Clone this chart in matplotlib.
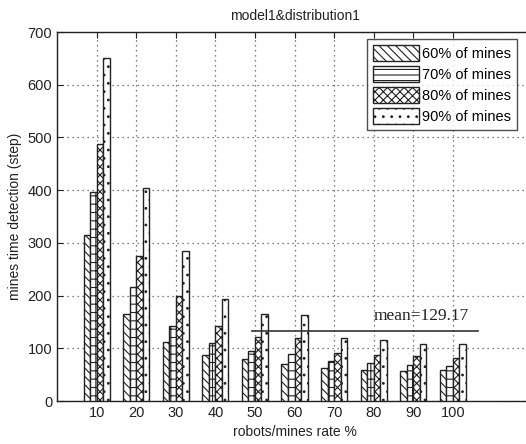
import matplotlib
matplotlib.use("Agg")
import matplotlib.pyplot as plt
import numpy as np
from matplotlib.patches import Patch

categories = ["10", "20", "30", "40", "50", "60", "70", "80", "90", "100"]
series_names = ["60% of mines", "70% of mines", "80% of mines", "90% of mines"]
mines60 = [315, 165, 112, 87, 79, 71, 62, 59, 57, 59]
mines70 = [397, 217, 142, 110, 94, 90, 76, 72, 68, 66]
mines80 = [488, 276, 199, 142, 122, 119, 92, 87, 85, 82]
mines90 = [650, 405, 285, 194, 165, 163, 119, 116, 108, 108]
mean_value = 129.17
mean_line_y = 132

plt.rcParams['hatch.linewidth'] = 0.8
plt.rcParams['font.family'] = ['Liberation Sans', 'DejaVu Sans']
fig = plt.figure(figsize=(5.26, 4.44), dpi=100)
ax = fig.add_axes([57/526, 1 - 401/444, (532 - 57)/526, (401 - 32)/444])

x = np.arange(1, len(categories) + 1)
w = 0.165
series = [mines60, mines70, mines80, mines90]
hatches = ['\\\\\\\\', '++', 'xxxx', '..']
for i, (vals, h) in enumerate(zip(series, hatches)):
    ax.bar(x + (i - 1.5) * w, vals, width=w, color='white', edgecolor='#222222',
           hatch=h, linewidth=1.0, zorder=3)

ax.plot([4.93, 10.64], [mean_line_y, mean_line_y], color='#333333', lw=1.2, zorder=4)
ax.text(8.0, 153, f"mean={mean_value:.2f}", family='Liberation Serif',
        fontsize=12.5, color='#222222', zorder=5)

ax.set_xlim(0, 12)
ax.set_ylim(0, 700)
ax.set_xticks(x)
ax.set_xticklabels(categories)
ax.set_yticks(np.arange(0, 701, 100))
ax.tick_params(direction='in', top=True, right=False, labelsize=10.5, length=4, colors='#222222')
ax.grid(True, linestyle=(0, (1, 3)), color='#555555', linewidth=0.9, zorder=0)
for s in ['left', 'bottom', 'top']:
    ax.spines[s].set_linewidth(1.0)
    ax.spines[s].set_color('#222222')
ax.spines['right'].set_visible(False)

ax.set_title("model1&distribution1", fontsize=10, pad=9, color='#222222')
ax.set_xlabel("robots/mines rate %", fontsize=10, labelpad=4, color='#222222')
ax.set_ylabel("mines time detection (step)", fontsize=10, labelpad=4, color='#222222')

handles = [Patch(facecolor='white', edgecolor='#222222', hatch=h, linewidth=1.0)
           for h in ['\\\\\\\\', '---', 'xxxx', '..']]
leg = ax.legend(handles, series_names, loc='upper right',
                bbox_to_anchor=((517 - 57) / 475, (401 - 39) / 369),
                fontsize=10.5, frameon=True, fancybox=False, edgecolor='#222222',
                handlelength=3.2, handleheight=1.3, handletextpad=0.2, borderpad=0.4,
                labelspacing=0.35, borderaxespad=0)
leg.get_frame().set_linewidth(1.0)
leg.set_zorder(10)

fig.savefig("out.png", dpi=100)
